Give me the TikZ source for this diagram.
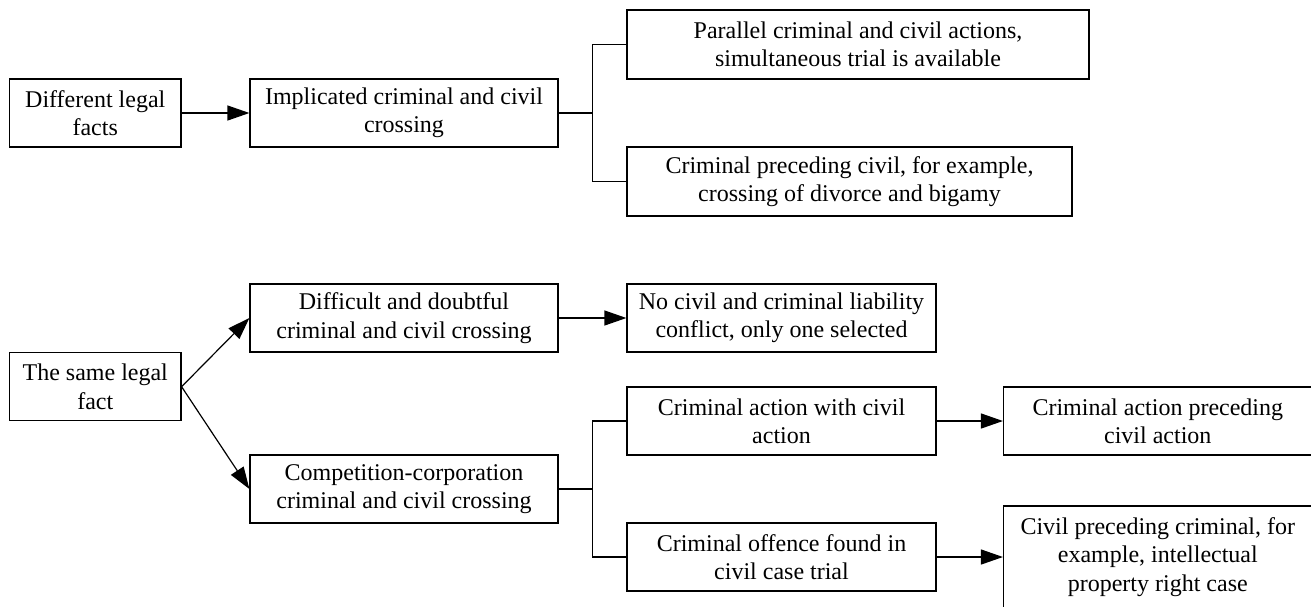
\documentclass[tikz,border=0pt]{standalone}
\usepackage{fontspec}
\setmainfont{Liberation Serif}
\usetikzlibrary{arrows.meta}
\begin{document}
\begin{tikzpicture}[x=1pt,y=-1pt,
  box/.style={draw,line width=1.2pt,inner sep=0pt,align=center,
    font=\fontsize{24}{28.3}\selectfont,minimum height=68pt},
  conn/.style={line width=1.2pt},
  arr/.style={line width=1.2pt,-{Triangle[length=22pt,width=15pt]}}]
\useasboundingbox (0,0) rectangle (1311,606);
\node[box,minimum width=171.5pt] (b1) at (95.25,113) {Different legal\\facts};
\node[box,minimum width=308pt] (b2) at (404,113) {Implicated criminal and civil\\crossing};
\node[box,minimum width=462pt,minimum height=69pt] (b3) at (858,44.5) {Parallel criminal and civil actions,\\simultaneous trial is available};
\node[box,minimum width=445pt,minimum height=69pt] (b4) at (849.5,181.5) {Criminal preceding civil, for example,\\crossing of divorce and bigamy};
\node[box,minimum width=171.5pt] (b5) at (95.25,386.7) {The same legal\\fact};
\node[box,minimum width=308pt] (b6) at (404,318) {Difficult and doubtful\\criminal and civil crossing};
\node[box,minimum width=309pt] (b7) at (781.5,318) {No civil and criminal liability\\conflict, only one selected};
\node[box,minimum width=308pt] (b8) at (404,489) {Competition-corporation\\criminal and civil crossing};
\node[box,minimum width=309pt] (b9) at (781.5,421) {Criminal action with civil\\action};
\node[box,minimum width=308.5pt] (b10) at (1157.8,421) {Criminal action preceding\\civil action};
\node[box,minimum width=309pt] (b11) at (781.5,557) {Criminal offence found in\\civil case trial};
\node[box,minimum width=308.5pt,minimum height=102pt] (b12) at (1157.8,557) {Civil preceding criminal, for\\example, intellectual\\property right case};
\coordinate (j1) at (592.5,113);
\coordinate (j2) at (592.5,489);
\draw[arr] (b1) -- (b2);
\draw[conn] (b2.east) -- (j1);
\draw[conn] (b3.west) -| (j1);
\draw[conn] (b4.west) -| (j1);
\draw[arr] (b5.east) -- (b6.west);
\draw[arr] (b5.east) -- (b8.west);
\draw[arr] (b6) -- (b7);
\draw[conn] (b8.east) -- (j2);
\draw[conn] (b9.west) -| (j2);
\draw[conn] (b11.west) -| (j2);
\draw[arr] (b9) -- (b10);
\draw[arr] (b11.east) -- (b12.west);
\end{tikzpicture}
\end{document}
